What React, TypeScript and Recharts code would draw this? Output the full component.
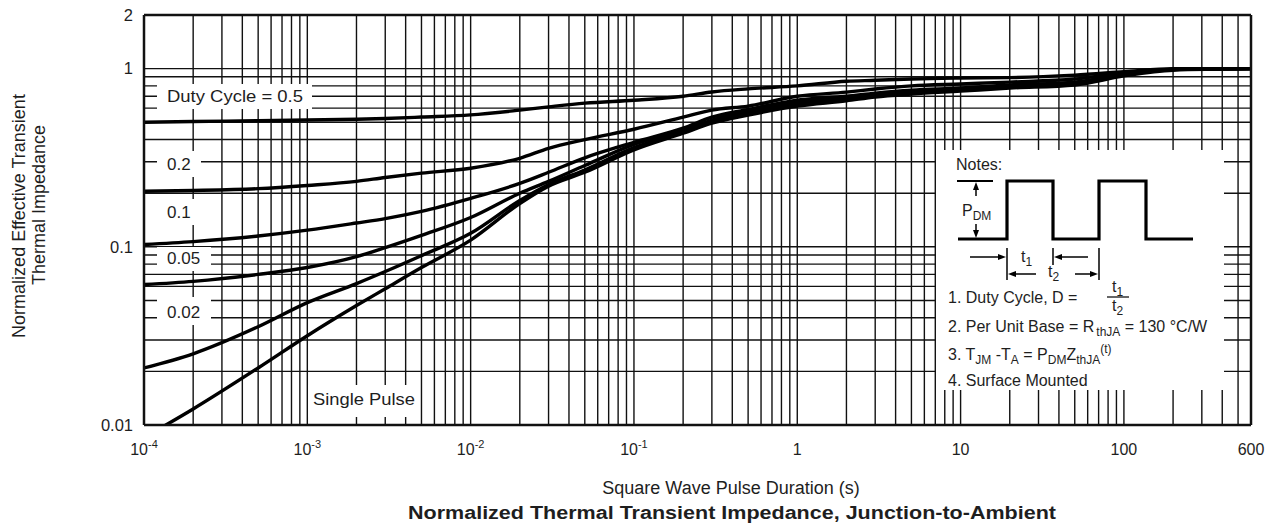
import { LineChart, Line, XAxis, YAxis, ReferenceLine } from 'recharts'

const FONT = '"Liberation Sans", Arial, Helvetica, sans-serif'
const INK = '#1e1e1e'

// pulse duration (s)
const durations = [1e-4, 2e-4, 5e-4, 1e-3, 2e-3, 3e-3, 5e-3, 1e-2, 2e-2, 3e-2, 5e-2, 0.1, 0.2, 0.3, 0.5, 1, 2, 3, 5, 10, 20, 50, 100, 200, 600]

// normalized Zth per duty cycle
const duty50 = [0.5, 0.505, 0.51, 0.515, 0.52, 0.525, 0.535, 0.55, 0.585, 0.61, 0.64, 0.665, 0.7, 0.74, 0.77, 0.8, 0.85, 0.86, 0.875, 0.885, 0.89, 0.92, 0.96, 1.0, 1.0]
const duty20 = [0.205, 0.207, 0.212, 0.221, 0.233, 0.245, 0.259, 0.276, 0.314, 0.357, 0.4, 0.457, 0.534, 0.585, 0.616, 0.7, 0.738, 0.768, 0.8, 0.82, 0.84, 0.874, 0.945, 0.99, 1.0]
const duty10 = [0.103, 0.107, 0.115, 0.124, 0.136, 0.144, 0.158, 0.187, 0.227, 0.262, 0.316, 0.386, 0.463, 0.534, 0.59, 0.666, 0.7, 0.729, 0.758, 0.778, 0.81, 0.84, 0.935, 0.99, 1.0]
const duty05 = [0.0614, 0.064, 0.07, 0.0765, 0.088, 0.099, 0.116, 0.146, 0.2, 0.233, 0.286, 0.376, 0.451, 0.514, 0.577, 0.649, 0.693, 0.72, 0.748, 0.768, 0.8, 0.83, 0.935, 0.99, 1.0]
const duty02 = [0.0209, 0.0251, 0.0356, 0.0486, 0.0622, 0.0727, 0.0893, 0.119, 0.182, 0.224, 0.27, 0.36, 0.44, 0.5, 0.56, 0.632, 0.676, 0.71, 0.738, 0.758, 0.79, 0.82, 0.92, 0.99, 1.0]
const single = [0.0085, 0.0123, 0.0209, 0.0317, 0.0468, 0.0582, 0.0765, 0.109, 0.175, 0.219, 0.262, 0.35, 0.434, 0.494, 0.548, 0.616, 0.66, 0.693, 0.72, 0.748, 0.778, 0.81, 0.91, 0.98, 1.0]

const seriesKeys = ['d50', 'd20', 'd10', 'd05', 'd02', 'single']
const seriesValues = [duty50, duty20, duty10, duty05, duty02, single]

const xTicks = [1e-4, 1e-3, 1e-2, 0.1, 1, 10, 100, 600]
const xTickBase = ['10', '10', '10', '10', '1', '10', '100', '600']
const xTickSup = ['-4', '-3', '-2', '-1', '', '', '', '']
const yTicks = [0.01, 0.1, 1, 2]
const yTickLabels = ['0.01', '0.1', '1', '2']

const decades = [1e-4, 1e-3, 1e-2, 0.1, 1, 10, 100]
const multipliers = [1, 2, 3, 4, 5, 6, 7, 8, 9]
const xGrid = decades.flatMap(d => multipliers.map(m => m * d)).filter(v => v > 1e-4 && v < 600)
const yGrid = [0.01, 0.1].flatMap(d => multipliers.map(m => m * d)).filter(v => v > 0.01).concat([1])

const data = durations.map((t, i) => {
  const row: Record<string, number> = { t }
  seriesKeys.forEach((k, s) => { row[k] = seriesValues[s][i] })
  return row
})

function XTick({ x, y, index }: any) {
  return (
    <text x={x} y={y + 22} textAnchor="middle" fontSize={16} fill={INK} fontFamily={FONT}>
      {xTickBase[index]}
      {xTickSup[index] && <tspan dy={-7} fontSize={11}>{xTickSup[index]}</tspan>}
    </text>
  )
}

function LabelBox({ x, y, w, h, text, len }: { x: number, y: number, w: number, h: number, text: string, len?: number }) {
  return (
    <g>
      <rect x={x} y={y} width={w} height={h} fill="#fff" />
      <text x={x + 10} y={y + h - 7} fontSize={17} fill={INK}
        textLength={len} lengthAdjust={len ? 'spacingAndGlyphs' : undefined}>{text}</text>
    </g>
  )
}

function Notes() {
  const sub = 12
  const k = '#000'
  return (
    <g fontSize={16} fill={INK}>
      <rect x={936} y={150} width={288} height={240} fill="#fff" />
      <text x={956} y={170}>Notes:</text>
      {/* pulse train */}
      <path d="M958 239 H1007 V181 H1053 V239 H1099 V181 H1146 V239 H1193" fill="none" stroke={k} strokeWidth={3.2} />
      <line x1={957} x2={993} y1={181} y2={181} stroke={k} strokeWidth={2} />
      <line x1={976} x2={976} y1={186} y2={196} stroke={k} strokeWidth={1.5} />
      <polygon points="976,182 973,190 979,190" fill={k} />
      <line x1={976} x2={976} y1={224} y2={234} stroke={k} strokeWidth={1.5} />
      <polygon points="976,238 973,230 979,230" fill={k} />
      <text x={962} y={216}>P<tspan fontSize={sub} dy={4}>DM</tspan></text>
      {/* t1 / t2 dimension marks */}
      <line x1={1007} x2={1007} y1={248} y2={280} stroke={k} strokeWidth={1.5} />
      <line x1={1053} x2={1053} y1={248} y2={265} stroke={k} strokeWidth={1.5} />
      <line x1={1099} x2={1099} y1={248} y2={280} stroke={k} strokeWidth={1.5} />
      <line x1={970} x2={1000} y1={257} y2={257} stroke={k} strokeWidth={1.5} />
      <polygon points="1006,257 998,254 998,260" fill={k} />
      <line x1={1060} x2={1088} y1={257} y2={257} stroke={k} strokeWidth={1.5} />
      <polygon points="1054,257 1062,254 1062,260" fill={k} />
      <text x={1021} y={262}>t<tspan fontSize={sub} dy={4}>1</tspan></text>
      <line x1={1014} x2={1036} y1={274} y2={274} stroke={k} strokeWidth={1.5} />
      <polygon points="1008,274 1016,271 1016,277" fill={k} />
      <line x1={1075} x2={1092} y1={274} y2={274} stroke={k} strokeWidth={1.5} />
      <polygon points="1098,274 1090,271 1090,277" fill={k} />
      <text x={1048} y={277}>t<tspan fontSize={sub} dy={4}>2</tspan></text>
      {/* notes text */}
      <text x={948} y={303}>1. Duty Cycle, D =</text>
      <text x={1112} y={292}>t<tspan fontSize={sub} dy={4}>1</tspan></text>
      <line x1={1107} x2={1129} y1={297} y2={297} stroke={k} strokeWidth={1.2} />
      <text x={1112} y={311}>t<tspan fontSize={sub} dy={4}>2</tspan></text>
      <text x={948} y={332}>2. Per Unit Base = R<tspan fontSize={sub} dx={2} dy={4}>thJA</tspan><tspan dy={-4}> = 130 °C/W</tspan></text>
      <text x={948} y={360}>
        3. T<tspan fontSize={sub} dy={4}>JM</tspan>
        <tspan dy={-4}> -T</tspan><tspan fontSize={sub} dy={4}>A</tspan>
        <tspan dy={-4}> = P</tspan><tspan fontSize={sub} dy={4}>DM</tspan>
        <tspan dy={-4}>Z</tspan><tspan fontSize={sub} dy={4}>thJA</tspan>
        <tspan fontSize={sub} dy={-11}>(t)</tspan>
      </text>
      <text x={948} y={386}>4. Surface Mounted</text>
    </g>
  )
}

export default function App() {
  return (
    <div style={{ position: 'absolute', left: 0, top: 0, width: 1271, height: 531, background: '#fff', fontFamily: FONT }}>
      <div style={{ position: 'absolute', left: 0, top: 0 }}>
        <LineChart width={1271} height={531} data={data} margin={{ top: 15, right: 20, bottom: 76, left: 84 }}>
          <XAxis dataKey="t" type="number" scale="log" domain={[1e-4, 600]} ticks={xTicks} interval={0}
            allowDataOverflow tick={<XTick />} tickLine={false} axisLine={false} height={30} />
          <YAxis type="number" scale="log" domain={[0.01, 2]} ticks={yTicks} interval={0} allowDataOverflow
            width={60} tickLine={false} axisLine={false} tickMargin={5}
            tickFormatter={(v: number) => yTickLabels[yTicks.indexOf(v)] ?? String(v)}
            tick={{ fontSize: 16.5, fill: INK, fontFamily: FONT }} />
          {xGrid.map(v => <ReferenceLine key={'gx' + v} x={v} stroke="#111" strokeWidth={1.4} />)}
          {yGrid.map(v => <ReferenceLine key={'gy' + v} y={v} stroke="#111" strokeWidth={1.4} />)}
          {seriesKeys.map(k => (
            <Line key={k} dataKey={k} type="monotone" stroke="#000" strokeWidth={3.4} dot={false} isAnimationActive={false} />
          ))}
          <ReferenceLine x={1e-4} stroke="#111" strokeWidth={2.5} />
          <ReferenceLine x={600} stroke="#111" strokeWidth={2.5} />
          <ReferenceLine y={0.01} stroke="#111" strokeWidth={2.5} />
          <ReferenceLine y={2} stroke="#111" strokeWidth={2.5} />
        </LineChart>
      </div>
      <svg width={1271} height={531} style={{ position: 'absolute', left: 0, top: 0, pointerEvents: 'none' }} fontFamily={FONT}>
        <LabelBox x={157} y={84} w={155} h={25} text="Duty Cycle = 0.5" len={136} />
        <LabelBox x={157} y={151} w={44} h={26} text="0.2" />
        <LabelBox x={157} y={199} w={44} h={26} text="0.1" />
        <LabelBox x={157} y={247} w={54} h={24} text="0.05" />
        <LabelBox x={157} y={297} w={54} h={28} text="0.02" />
        <rect x={308} y={385} width={112} height={32} fill="#fff" />
        <text x={313} y={405} fontSize={17} fill={INK} textLength={102} lengthAdjust="spacingAndGlyphs">Single Pulse</text>
        <Notes />
        <text transform="rotate(-90)" x={-216} y={25} textAnchor="middle" fontSize={18} fill={INK}>Normalized Effective Transient</text>
        <text transform="rotate(-90)" x={-205} y={45} textAnchor="middle" fontSize={18} fill={INK}>Thermal Impedance</text>
        <text x={731} y={494} textAnchor="middle" fontSize={18} fill={INK}>Square Wave Pulse Duration (s)</text>
        <text x={732} y={519} textAnchor="middle" fontSize={18} fontWeight="bold" fill={INK}
          textLength={648} lengthAdjust="spacingAndGlyphs">Normalized Thermal Transient Impedance, Junction-to-Ambient</text>
      </svg>
    </div>
  )
}
